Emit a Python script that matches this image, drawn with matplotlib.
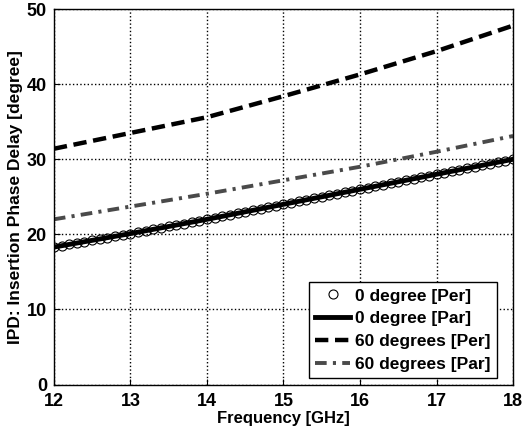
import numpy as np
import matplotlib
matplotlib.use('Agg')
import matplotlib.pyplot as plt

plt.rcParams['font.family'] = ['Liberation Sans', 'DejaVu Sans']

# coarse frequency grid (GHz) for the line traces
freq = [12, 13, 14, 15, 16, 17, 18]
par0 = [18.3, 20.1, 22.0, 24.0, 26.0, 28.0, 30.0]
per60 = [31.4, 33.5, 35.6, 38.4, 41.3, 44.4, 47.8]
par60 = [22.0, 23.7, 25.4, 27.2, 29.0, 31.0, 33.1]

# fine grid for the circle markers (0 degree, Per)
freq_fine = np.round(np.arange(12, 18.001, 0.1), 1)
per0 = [18.30, 18.48, 18.66, 18.84, 19.02, 19.20, 19.38, 19.56, 19.74, 19.92,
        20.10, 20.29, 20.48, 20.67, 20.86, 21.05, 21.24, 21.43, 21.62, 21.81,
        22.00, 22.20, 22.40, 22.60, 22.80, 23.00, 23.20, 23.40, 23.60, 23.80,
        24.00, 24.20, 24.40, 24.60, 24.80, 25.00, 25.20, 25.40, 25.60, 25.80,
        26.00, 26.20, 26.40, 26.60, 26.80, 27.00, 27.20, 27.40, 27.60, 27.80,
        28.00, 28.20, 28.40, 28.60, 28.80, 29.00, 29.20, 29.40, 29.60, 29.80,
        30.00]

fig = plt.figure(figsize=(5.23, 4.33), dpi=100)
ax = fig.add_axes([0.103, 0.112, 0.878, 0.867])

ax.plot(freq, par0, '-', color='black', lw=3.5, label='0 degree [Par]', zorder=2)
ax.plot(freq_fine, per0, 'o', ms=6.5, mfc='none', mec='black', mew=0.8, label='0 degree [Per]', zorder=3)
ax.plot(freq, per60, '--', color='black', lw=3.2, dashes=(3, 1.5), label='60 degrees [Per]')
ax.plot(freq, par60, '-.', color='#4a4a4a', lw=2.8, dashes=(3, 1.6, 0.8, 1.6), label='60 degrees [Par]')

ax.set_xlim(12, 18)
ax.set_ylim(0, 50)
ax.set_xticks(range(12, 19))
ax.set_yticks(range(0, 51, 10))
ax.grid(True, linestyle=':', color='black', lw=1)
ax.tick_params(direction='in', length=4, labelsize=13, width=0.8)
ax.tick_params(axis='x', pad=6)
ax.tick_params(axis='y', pad=5)
for lab in ax.get_xticklabels() + ax.get_yticklabels():
    lab.set_fontweight('bold')
for s in ax.spines.values():
    s.set_linewidth(1)

ax.set_xlabel('Frequency [GHz]', fontsize=12, fontweight='bold', labelpad=1)
ax.set_ylabel('IPD: Insertion Phase Delay [degree]', fontsize=12.5, fontweight='bold', labelpad=3)

handles, labels = ax.get_legend_handles_labels()
order = [1, 0, 2, 3]
leg = ax.legend([handles[i] for i in order], [labels[i] for i in order],
                loc='lower right', bbox_to_anchor=(0.965, 0.016), borderaxespad=0,
                fancybox=False, edgecolor='black', framealpha=1,
                handlelength=2.0, handletextpad=0.3, borderpad=0.35, labelspacing=0.45,
                prop={'weight': 'bold', 'size': 12.5})
leg.get_frame().set_linewidth(1)

fig.savefig('out.png', dpi=100)
